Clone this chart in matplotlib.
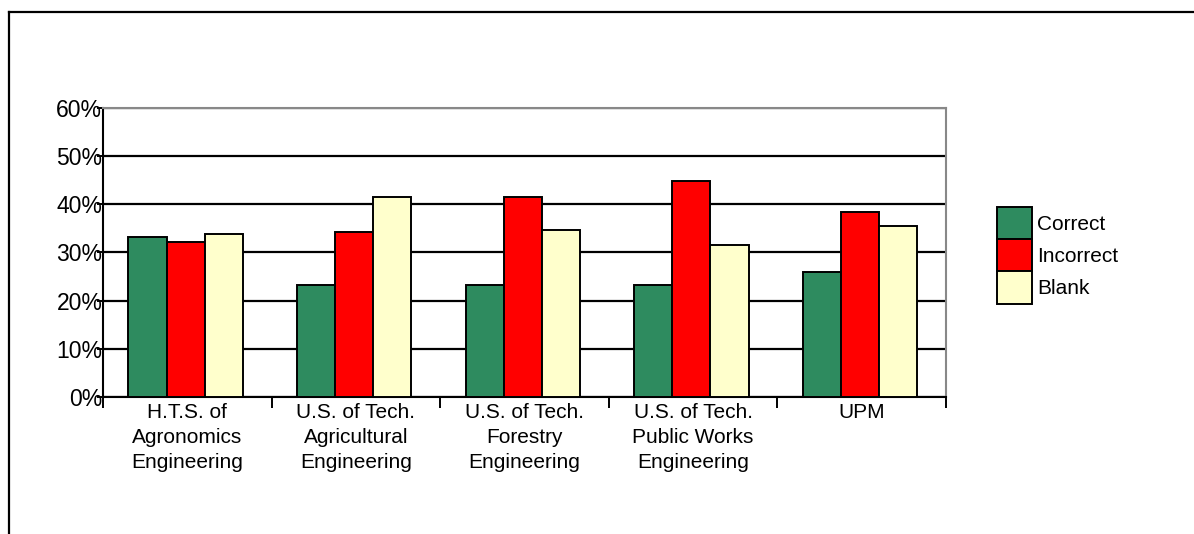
import numpy as np
import matplotlib.pyplot as plt
from matplotlib.lines import Line2D
from matplotlib.patches import Patch

plt.rcParams['font.family'] = ['Liberation Sans', 'DejaVu Sans']

schools = ["H.T.S. of\nAgronomics\nEngineering",
           "U.S. of Tech.\nAgricultural\nEngineering",
           "U.S. of Tech.\nForestry\nEngineering",
           "U.S. of Tech.\nPublic Works\nEngineering",
           "UPM"]
correct = [33.3, 23.2, 23.2, 23.2, 26.0]
incorrect = [32.1, 34.3, 41.6, 44.9, 38.3]
blank = [33.8, 41.6, 34.6, 31.5, 35.5]

series_names = ["Correct", "Incorrect", "Blank"]
series_colors = ["#2e8b5f", "#ff0000", "#ffffcc"]

fig = plt.figure(figsize=(11.94, 5.34), dpi=100)
ax = fig.add_axes([0.0863, 0.2566, 0.7060, 0.5412])

x = np.arange(len(schools))
w = 0.226
for k, (vals, col) in enumerate(zip([correct, incorrect, blank], series_colors)):
    ax.bar(x - 0.01 + (k - 1) * w, vals, w, color=col, edgecolor="black",
           linewidth=1.4, zorder=3)

ax.set_xlim(-0.5, len(schools) - 0.5)
ax.set_ylim(0, 60)
ax.set_yticks(np.arange(0, 61, 10))
ax.set_yticklabels([f"{v}%" for v in range(0, 61, 10)], fontsize=16.5)
ax.yaxis.grid(True, color="black", linewidth=1.6, zorder=0)
ax.tick_params(axis="y", direction="inout", length=9, width=1.4, pad=-4)

# category labels sit between boundary ticks
ax.set_xticks(np.arange(-0.5, len(schools), 1.0))
ax.set_xticklabels([])
ax.set_xticks(x, minor=True)
ax.set_xticklabels(schools, minor=True, fontsize=15, linespacing=1.4)
ax.tick_params(axis="x", which="major", direction="out", length=8, width=1.4)
ax.tick_params(axis="x", which="minor", length=0, pad=4)

for side in ["left", "bottom"]:
    ax.spines[side].set_color("black")
    ax.spines[side].set_linewidth(1.5)
for side in ["top", "right"]:
    ax.spines[side].set_color("#888888")
    ax.spines[side].set_linewidth(1.5)
ax.spines["top"].set_zorder(4)

handles = [Patch(facecolor=c, edgecolor="black", linewidth=1.4) for c in series_colors]
fig.legend(handles, series_names, loc="upper left",
           bbox_to_anchor=(0.835, 0.6124), frameon=False, fontsize=15,
           handlelength=1.68, handleheight=2.0, labelspacing=0,
           handletextpad=0.25, borderpad=0, borderaxespad=0)

# outer frame around the chart
fig.add_artist(Line2D([9 / 1194, 1.0], [1 - 12 / 534, 1 - 12 / 534],
                      transform=fig.transFigure, color="black", linewidth=1.6))
fig.add_artist(Line2D([9 / 1194, 9 / 1194], [0.0, 1 - 12 / 534],
                      transform=fig.transFigure, color="black", linewidth=1.6))

fig.savefig("out.png", dpi=100)
